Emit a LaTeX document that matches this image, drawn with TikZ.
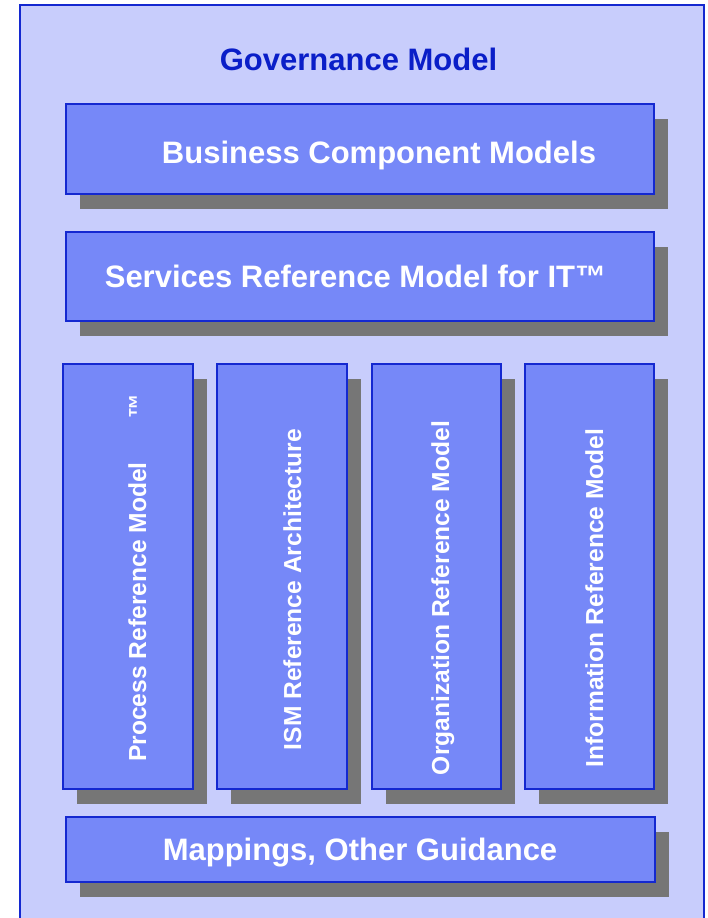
\documentclass[tikz,border=0pt]{standalone}
\usepackage{fontspec}
\setmainfont{Liberation Sans}
\usetikzlibrary{shadows}
\definecolor{frameblue}{RGB}{200,205,252}
\definecolor{boxblue}{RGB}{118,136,248}
\definecolor{edgeblue}{RGB}{20,40,208}
\definecolor{titleblue}{RGB}{10,30,200}
\definecolor{shadowgrey}{RGB}{118,118,118}
\begin{document}
\begin{tikzpicture}[x=1pt,y=-1pt,
    modelbox/.style={draw=edgeblue,line width=1.5pt,fill=boxblue,inner sep=0pt,
      drop shadow={shadow xshift=13.5pt,shadow yshift=-15pt,fill=shadowgrey,opacity=1}},
    bigtext/.style={text=white,font=\bfseries\fontsize{31}{37}\selectfont,inner sep=0pt,anchor=base},
    uptext/.style={text=white,font=\bfseries\fontsize{24.6}{30}\selectfont,inner sep=0pt,anchor=base,rotate=90}]
  \useasboundingbox (0,0) rectangle (708,918);
  % outer frame
  \draw[edgeblue,line width=1.5pt,fill=frameblue] (20,5) rectangle (704,940);
  \node[text=titleblue,font=\bfseries\fontsize{31}{37}\selectfont,inner sep=0pt,anchor=base] (gov) at (358.5,70) {Governance Model};
  % wide boxes
  \node[modelbox,minimum width=588pt,minimum height=90pt] (bcm) at (360,149) {};
  \node[bigtext] (bcmtext) at (379,163) {Business Component Models};
  \node[modelbox,minimum width=588pt,minimum height=89pt] (srm) at (360,276.5) {};
  \node[bigtext] (srmtext) at (355.5,287) {Services Reference Model for IT™};
  % columns
  \node[modelbox,minimum width=130pt,minimum height=425pt] (prm) at (128,576.5) {};
  \node[modelbox,minimum width=130pt,minimum height=425pt] (ism) at (282,576.5) {};
  \node[modelbox,minimum width=129pt,minimum height=425pt] (orm) at (436.5,576.5) {};
  \node[modelbox,minimum width=129pt,minimum height=425pt] (irm) at (589.5,576.5) {};
  \node[uptext] (prmtext) at (146,612) {Process Reference Model};
  \node[uptext] (prmtm) at (146,406) {™};
  \node[uptext] (ismtext) at (301,589.5) {ISM Reference Architecture};
  \node[uptext] (ormtext) at (449,598) {Organization Reference Model};
  \node[uptext] (irmtext) at (603,598) {Information Reference Model};
  % bottom box
  \node[modelbox,minimum width=589pt,minimum height=65pt] (map) at (360.5,849.5) {};
  \node[bigtext] (maptext) at (360,860) {Mappings, Other Guidance};
\end{tikzpicture}
\end{document}
